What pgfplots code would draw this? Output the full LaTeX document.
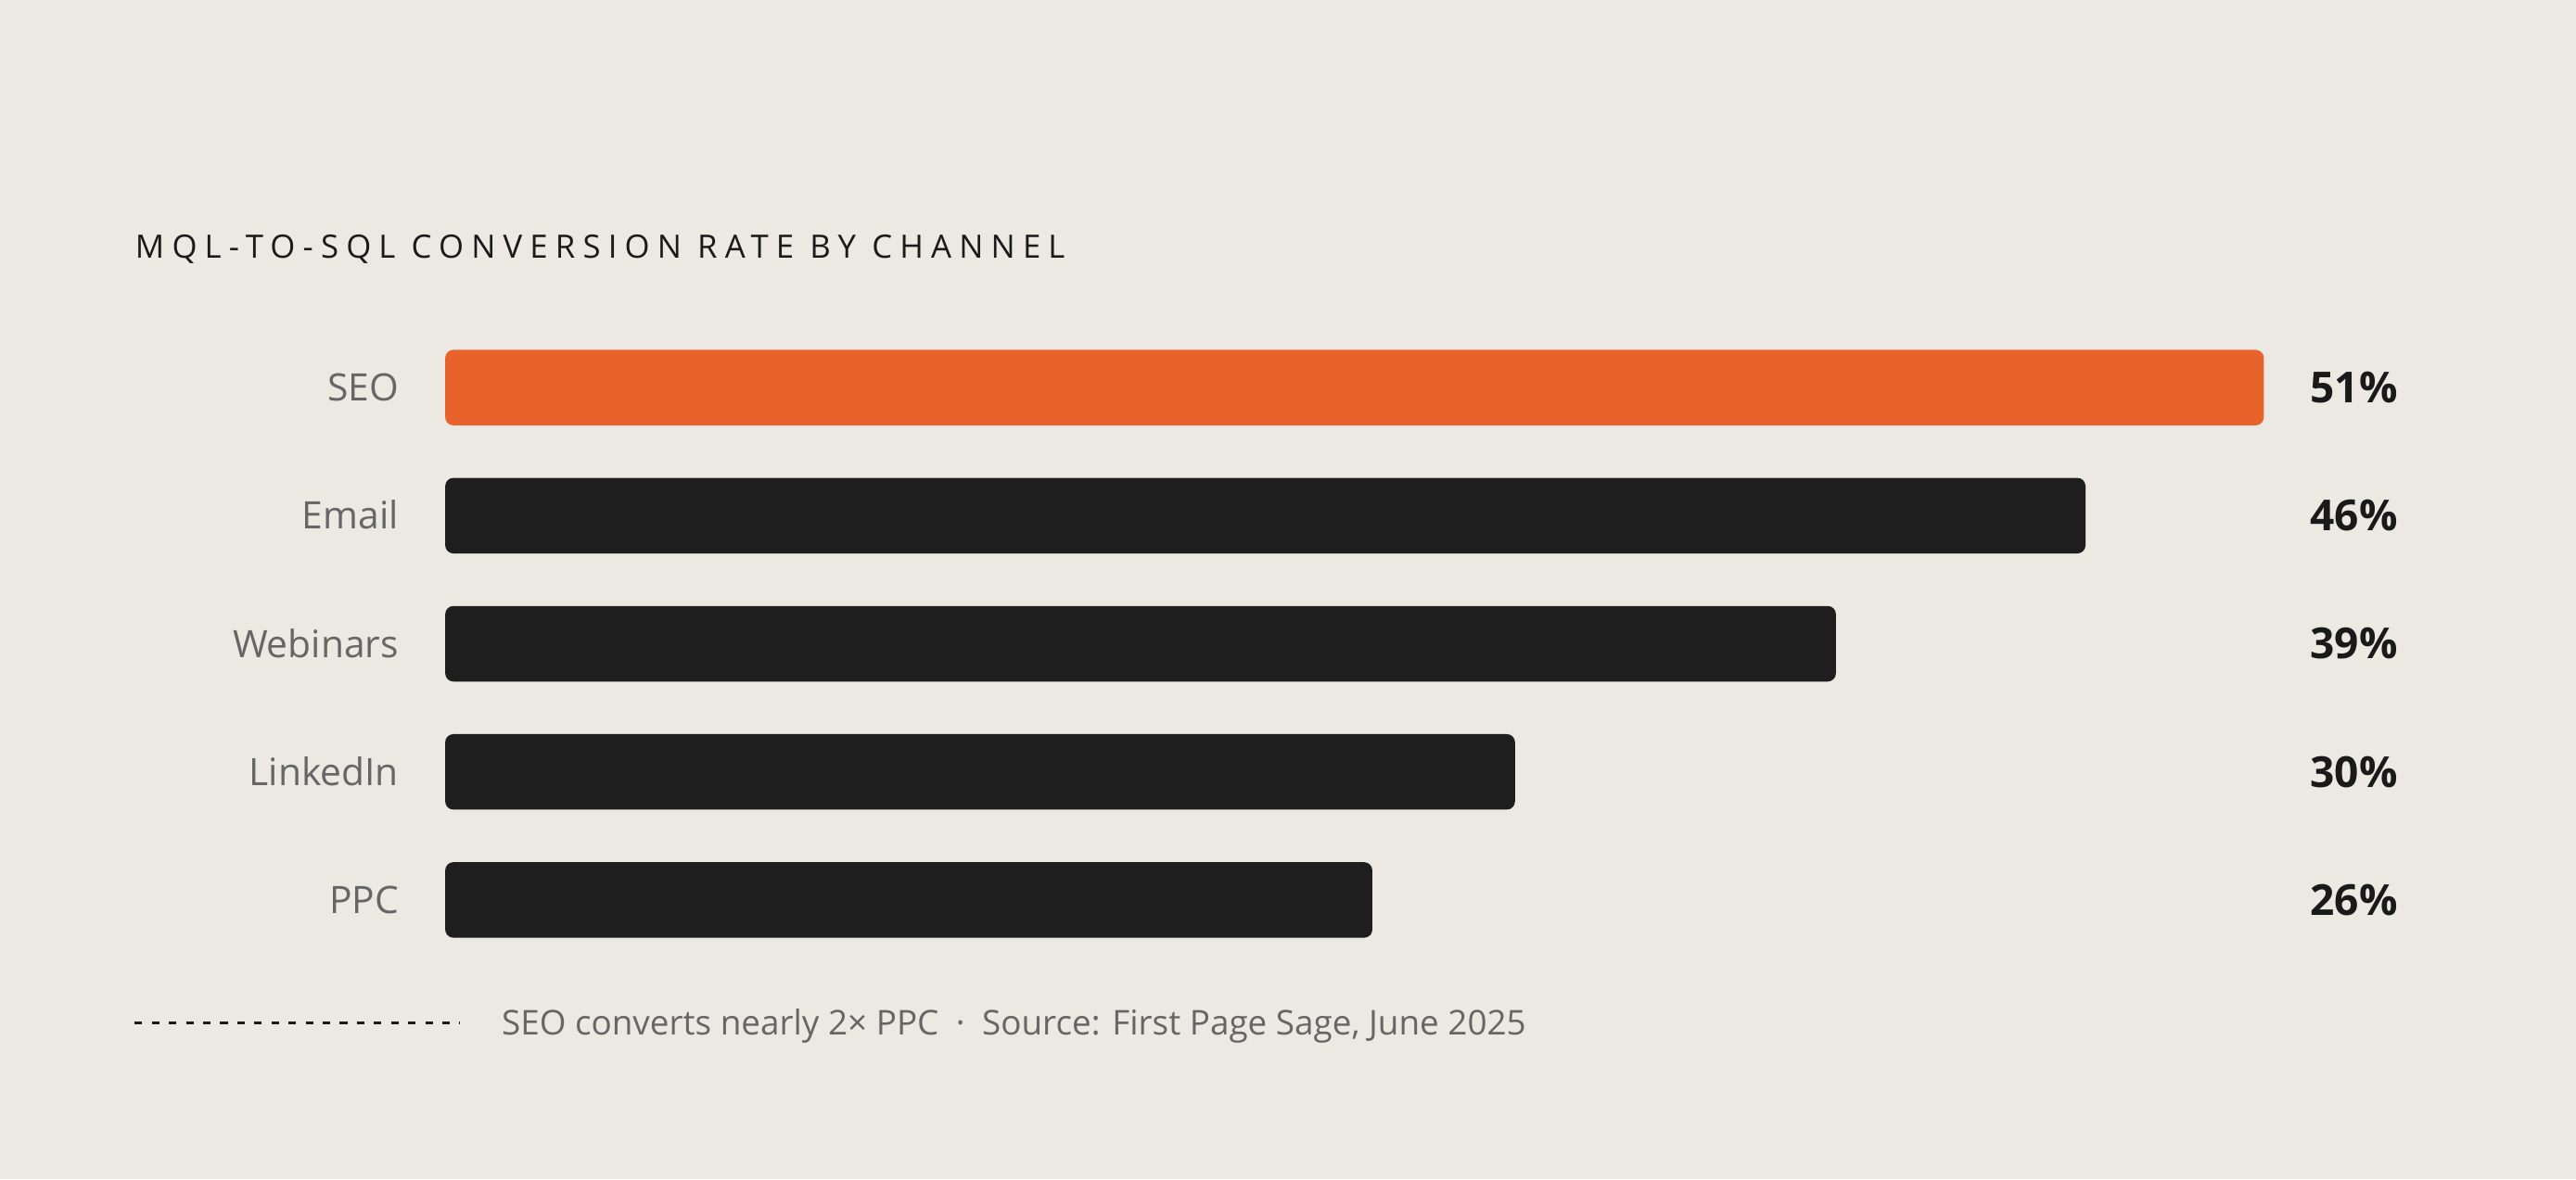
\documentclass[border=0pt]{standalone}
\usepackage{fontspec}
\setmainfont{Open Sans}
\newfontfamily\titlefont[LetterSpace=23.5]{Open Sans}
\usepackage{pgfplots}
\pgfplotsset{compat=1.18}

\definecolor{bg}{RGB}{236,233,226}
\definecolor{seoorange}{RGB}{232,98,44}
\definecolor{bardark}{RGB}{30,30,30}
\definecolor{labelgray}{RGB}{102,102,102}
\definecolor{ink}{RGB}{26,26,26}

% bar values (percent), SEO first
\pgfplotstableread{
x  y
51 0
}\seodata
\pgfplotstableread{
x  y
46 1
39 2
30 3
26 4
}\otherdata
% value labels: fixed x column, meta = value
\pgfplotstableread{
x     y  v
52.29 0  51
52.29 1  46
52.29 2  39
52.29 3  30
52.29 4  26
}\valuedata

\begin{document}
\begin{tikzpicture}
\fill[bg] (0,0) rectangle (784pt,359pt);
\path[use as bounding box] (0,0) rectangle (784pt,359pt);

\node[anchor=base west, inner sep=0pt, text=ink,
      font=\titlefont\fontsize{9.8}{12}\selectfont] at (41pt,280.5pt)
  {MQL-TO-SQL CONVERSION RATE BY CHANNEL};

\begin{axis}[
  at={(135.5pt,65.5pt)}, anchor=south west,
  scale only axis, width=596.9pt, height=195pt,
  xmin=0, xmax=55, ymin=-0.5, ymax=4.5, y dir=reverse,
  bar width=23pt,
  axis line style={draw=none}, major tick length=0pt,
  xtick=\empty, ytick={0,1,2,3,4},
  yticklabels={SEO,Email,Webinars,LinkedIn,PPC},
  yticklabel style={anchor=base east, inner sep=0pt, xshift=-14pt, yshift=-4.1pt,
    text=labelgray, font=\fontsize{11.5}{14}\selectfont},
  /pgf/number format/assume math mode=true,
  clip=false,
]
\addplot[xbar, bar shift=0pt, fill=seoorange, draw=none, rounded corners=2.5pt]
  table[x=x, y=y] {\seodata};
\addplot[xbar, bar shift=0pt, fill=bardark, draw=none, rounded corners=2.5pt]
  table[x=x, y=y] {\otherdata};
\addplot[only marks, mark=text, text mark={},
  point meta=explicit,
  nodes near coords={\textbf{\fontsize{13}{16}\selectfont\pgfmathprintnumber[fixed, precision=0, assume math mode=true]{\pgfplotspointmeta}\%}},
  nodes near coords style={anchor=base west, inner sep=0pt, yshift=-4.65pt,
    text=ink}]
  table[x=x, y=y, meta=v] {\valuedata};
\end{axis}

\draw[ink, line width=0.9pt, dash pattern=on 2.3pt off 2.9pt] (41pt,47.5pt) -- (140pt,47.5pt);
\node[anchor=base west, inner sep=0pt, text=labelgray,
      font=\fontsize{10.4}{12}\selectfont] at (152.5pt,44pt)
  {SEO converts nearly 2× PPC\hspace{0.5em}·\hspace{0.5em}Source: First Page Sage, June 2025};
\end{tikzpicture}
\end{document}
